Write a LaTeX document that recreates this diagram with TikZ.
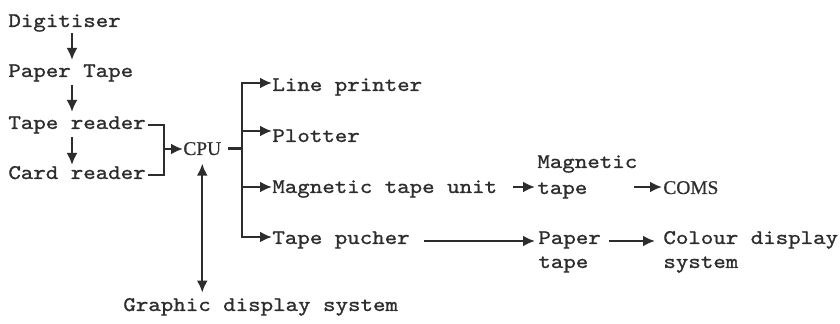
\documentclass[tikz,border=0pt]{standalone}
\usepackage{fontspec}
\usetikzlibrary{arrows.meta}
\newfontfamily\twfont{lmmono10-regular.otf}[FakeStretch=1.143,FakeBold=1.0]
\newfontfamily\tmsfont{Liberation Serif}[FakeBold=0.6]
\definecolor{ink}{RGB}{45,45,45}
\tikzset{
  lbl/.style={inner sep=0pt, anchor=base west, font=\twfont\fontsize{10.4}{13}\selectfont, text=ink},
  srf/.style={inner sep=0pt, anchor=base west, font=\tmsfont\fontsize{9.7}{12}\selectfont, text=ink},
  ln/.style={draw=ink, line width=1.2pt},
  arr/.style={ln, -{Latex[length=6pt,width=5.5pt]}},
  darr/.style={ln, {Latex[length=6pt,width=5.5pt]}-{Latex[length=6pt,width=5.5pt]}},
}
\begin{document}
\begin{tikzpicture}[x=0.5pt,y=-0.5pt]
\fill[white] (0,0) rectangle (840,324);
\useasboundingbox (0,0) rectangle (840,324);
% nodes
\node[lbl] (dig) at (8,27) {Digitiser};
\node[lbl] (pt) at (8,77) {Paper Tape};
\node[lbl] (tr) at (8,129) {Tape reader};
\node[lbl] (cr) at (8,179) {Card reader};
\node[srf] (cpu) at (183,155) {CPU};
\node[lbl] (lp) at (272,91) {Line printer};
\node[lbl] (plot) at (272,142) {Plotter};
\node[lbl] (mtu) at (272,193) {Magnetic tape unit};
\node[lbl] (tp) at (272,244) {Tape pucher};
\node[lbl] (magA) at (537,168) {Magnetic};
\node[lbl] (magB) at (537,194) {tape};
\node[srf] (coms) at (663,194) {COMS};
\node[lbl] (papA) at (538,244) {Paper};
\node[lbl] (papB) at (538,268) {tape};
\node[lbl] (colA) at (663,244) {Colour display};
\node[lbl] (colB) at (663,268) {system};
\node[lbl] (gds) at (123,311) {Graphic display system};
% coordinates
\coordinate (brk) at (164,149);
\coordinate (b1) at (242,83);
\coordinate (b2) at (242,131);
\coordinate (b3) at (242,187);
\coordinate (b4) at (242,237);
% input chain
\draw[arr] ([shift={(64,6)}]dig.base west) -- ([shift={(64,-17)}]pt.base west);
\draw[arr] ([shift={(64,8)}]pt.base west) -- ([shift={(64,-17)}]tr.base west);
\draw[arr] ([shift={(64,8)}]tr.base west) -- ([shift={(64,-14)}]cr.base west);
% bracket to CPU
\draw[ln] ([shift={(2,-4)}]tr.base east) -| (brk) |- ([shift={(2,-4)}]cr.base east);
\draw[arr] (brk) -- (cpu.west |- brk);
% CPU to bus
\draw[ln] ([xshift=3pt]cpu.east) -- (cpu.east -| b1);
\draw[arr] (b4) |- (lp.west |- b1);
\draw[arr] (b1) |- (tp.west |- b4);
\draw[arr] (b2) -- (plot.west |- b2);
\draw[arr] (b3) -- (mtu.west |- b3);
% graphic display
\draw[darr] ([yshift=-4pt]cpu.south) -- ([yshift=2.5pt]cpu.south |- gds.north);
% right side
\draw[arr] ([shift={(16,-6)}]mtu.base east) -- ([shift={(-2,-7)}]magB.base west);
\draw[arr] ([shift={(46,-7)}]magB.base east) -- ([shift={(-1,-7)}]coms.base west);
\draw[arr] ([shift={(14,-3)}]tp.base east) -- ([shift={(-3,-3)}]papA.base west);
\draw[arr] ([shift={(8,-3)}]papA.base east) -- ([shift={(-8,-3)}]colA.base west);
\end{tikzpicture}
\end{document}
